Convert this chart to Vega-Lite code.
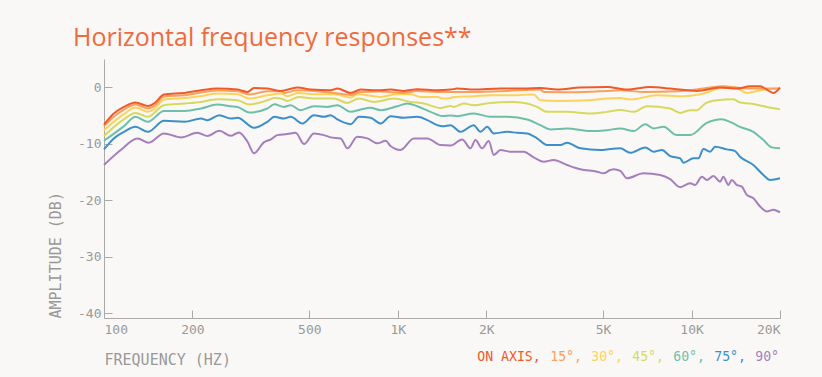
{
"$schema": "https://vega.github.io/schema/vega-lite/v6.json",
"width": 676, "height": 259,
"autosize": {"type": "none"},
"padding": {"left": 104, "top": 59, "right": 42, "bottom": 59},
"background": "#faf8f7",
"title": {"text": "Horizontal frequency responses**", "anchor": "start", "frame": "group", "dx": -31, "dy": 30, "offset": 18, "baseline": "alphabetic", "font": "Open Sans", "fontSize": 25, "fontWeight": "normal", "color": "#f06a3c"},
"data": {"values": [
{"s":"90°","f":100,"db":-13.74},{"s":"90°","f":114,"db":-11.1},{"s":"90°","f":130,"db":-9.04},{"s":"90°","f":142,"db":-9.81},{"s":"90°","f":160,"db":-8.16},{"s":"90°","f":183,"db":-8.86},{"s":"90°","f":208,"db":-8.05},{"s":"90°","f":225,"db":-8.63},{"s":"90°","f":247,"db":-7.7},{"s":"90°","f":270,"db":-8.58},{"s":"90°","f":288,"db":-7.98},{"s":"90°","f":308,"db":-9.64},{"s":"90°","f":324,"db":-11.68},{"s":"90°","f":350,"db":-9.74},{"s":"90°","f":370,"db":-9.2},{"s":"90°","f":389,"db":-8.46},{"s":"90°","f":421,"db":-8.28},{"s":"90°","f":449,"db":-8.05},{"s":"90°","f":480,"db":-10.04},{"s":"90°","f":518,"db":-8.16},{"s":"90°","f":561,"db":-8.46},{"s":"90°","f":591,"db":-8.86},{"s":"90°","f":639,"db":-9.04},{"s":"90°","f":674,"db":-10.8},{"s":"90°","f":728,"db":-8.76},{"s":"90°","f":788,"db":-9.04},{"s":"90°","f":852,"db":-9.92},{"s":"90°","f":909,"db":-9.46},{"s":"90°","f":945,"db":-10.4},{"s":"90°","f":1022,"db":-11.1},{"s":"90°","f":1134,"db":-9.04},{"s":"90°","f":1260,"db":-9.04},{"s":"90°","f":1398,"db":-10.22},{"s":"90°","f":1512,"db":-10.3},{"s":"90°","f":1657,"db":-9.22},{"s":"90°","f":1768,"db":-10.8},{"s":"90°","f":1838,"db":-9.34},{"s":"90°","f":1937,"db":-10.8},{"s":"90°","f":2040,"db":-9.52},{"s":"90°","f":2122,"db":-11.98},{"s":"90°","f":2236,"db":-11.1},{"s":"90°","f":2418,"db":-11.4},{"s":"90°","f":2683,"db":-11.4},{"s":"90°","f":2901,"db":-12.39},{"s":"90°","f":3138,"db":-13.16},{"s":"90°","f":3394,"db":-12.86},{"s":"90°","f":3768,"db":-13.74},{"s":"90°","f":4181,"db":-14.5},{"s":"90°","f":4766,"db":-14.93},{"s":"90°","f":5019,"db":-15.21},{"s":"90°","f":5289,"db":-14.63},{"s":"90°","f":5428,"db":-14.5},{"s":"90°","f":5720,"db":-14.8},{"s":"90°","f":6028,"db":-16.09},{"s":"90°","f":6864,"db":-15.21},{"s":"90°","f":7822,"db":-15.51},{"s":"90°","f":8458,"db":-16.26},{"s":"90°","f":9149,"db":-17.67},{"s":"90°","f":9890,"db":-16.97},{"s":"90°","f":10285,"db":-17.27},{"s":"90°","f":10839,"db":-15.81},{"s":"90°","f":11271,"db":-16.39},{"s":"90°","f":11869,"db":-15.68},{"s":"90°","f":12510,"db":-16.69},{"s":"90°","f":12835,"db":-15.81},{"s":"90°","f":13348,"db":-17.27},{"s":"90°","f":13708,"db":-16.39},{"s":"90°","f":14256,"db":-17.27},{"s":"90°","f":14825,"db":-17.57},{"s":"90°","f":15417,"db":-19.03},{"s":"90°","f":16234,"db":-19.61},{"s":"90°","f":17111,"db":-21.09},{"s":"90°","f":18030,"db":-21.97},{"s":"90°","f":18984,"db":-21.67},{"s":"90°","f":20000,"db":-22.14},
{"s":"75°","f":100,"db":-10.98},{"s":"75°","f":108,"db":-9.04},{"s":"75°","f":117,"db":-7.88},{"s":"75°","f":128,"db":-7.0},{"s":"75°","f":141,"db":-7.88},{"s":"75°","f":160,"db":-5.94},{"s":"75°","f":188,"db":-6.11},{"s":"75°","f":214,"db":-5.52},{"s":"75°","f":225,"db":-5.81},{"s":"75°","f":247,"db":-4.93},{"s":"75°","f":270,"db":-5.52},{"s":"75°","f":285,"db":-5.4},{"s":"75°","f":324,"db":-7.17},{"s":"75°","f":360,"db":-6.11},{"s":"75°","f":380,"db":-5.23},{"s":"75°","f":410,"db":-5.52},{"s":"75°","f":432,"db":-5.23},{"s":"75°","f":474,"db":-6.4},{"s":"75°","f":518,"db":-4.93},{"s":"75°","f":561,"db":-5.23},{"s":"75°","f":591,"db":-4.93},{"s":"75°","f":623,"db":-5.69},{"s":"75°","f":691,"db":-6.52},{"s":"75°","f":738,"db":-5.23},{"s":"75°","f":808,"db":-5.4},{"s":"75°","f":874,"db":-6.4},{"s":"75°","f":945,"db":-5.11},{"s":"75°","f":1049,"db":-5.4},{"s":"75°","f":1165,"db":-5.23},{"s":"75°","f":1260,"db":-5.81},{"s":"75°","f":1363,"db":-6.7},{"s":"75°","f":1420,"db":-6.9},{"s":"75°","f":1512,"db":-6.7},{"s":"75°","f":1635,"db":-7.88},{"s":"75°","f":1814,"db":-6.7},{"s":"75°","f":1911,"db":-7.88},{"s":"75°","f":2015,"db":-7.0},{"s":"75°","f":2122,"db":-8.16},{"s":"75°","f":2357,"db":-7.88},{"s":"75°","f":2549,"db":-8.05},{"s":"75°","f":2756,"db":-8.16},{"s":"75°","f":2980,"db":-9.04},{"s":"75°","f":3223,"db":-10.22},{"s":"75°","f":3577,"db":-10.22},{"s":"75°","f":3768,"db":-9.81},{"s":"75°","f":4181,"db":-10.8},{"s":"75°","f":4890,"db":-11.1},{"s":"75°","f":5289,"db":-10.93},{"s":"75°","f":5720,"db":-10.8},{"s":"75°","f":6185,"db":-11.58},{"s":"75°","f":6956,"db":-10.63},{"s":"75°","f":7422,"db":-11.4},{"s":"75°","f":7925,"db":-11.1},{"s":"75°","f":8458,"db":-12.16},{"s":"75°","f":9149,"db":-12.56},{"s":"75°","f":9387,"db":-13.34},{"s":"75°","f":10150,"db":-12.56},{"s":"75°","f":10554,"db":-12.56},{"s":"75°","f":10975,"db":-10.93},{"s":"75°","f":11566,"db":-11.4},{"s":"75°","f":12029,"db":-10.52},{"s":"75°","f":13183,"db":-10.98},{"s":"75°","f":14066,"db":-11.28},{"s":"75°","f":14628,"db":-12.28},{"s":"75°","f":16234,"db":-13.74},{"s":"75°","f":17559,"db":-15.51},{"s":"75°","f":18506,"db":-16.39},{"s":"75°","f":20000,"db":-16.09},
{"s":"60°","f":100,"db":-9.46},{"s":"60°","f":117,"db":-6.87},{"s":"60°","f":128,"db":-5.23},{"s":"60°","f":141,"db":-6.11},{"s":"60°","f":160,"db":-4.18},{"s":"60°","f":188,"db":-4.18},{"s":"60°","f":214,"db":-3.75},{"s":"60°","f":243,"db":-3.05},{"s":"60°","f":270,"db":-3.35},{"s":"60°","f":285,"db":-3.47},{"s":"60°","f":312,"db":-4.46},{"s":"60°","f":360,"db":-3.75},{"s":"60°","f":380,"db":-3.0},{"s":"60°","f":410,"db":-3.47},{"s":"60°","f":432,"db":-3.17},{"s":"60°","f":467,"db":-4.05},{"s":"60°","f":518,"db":-3.35},{"s":"60°","f":576,"db":-3.47},{"s":"60°","f":623,"db":-3.17},{"s":"60°","f":691,"db":-4.35},{"s":"60°","f":748,"db":-3.93},{"s":"60°","f":808,"db":-3.64},{"s":"60°","f":874,"db":-4.05},{"s":"60°","f":996,"db":-3.35},{"s":"60°","f":1077,"db":-2.87},{"s":"60°","f":1165,"db":-3.35},{"s":"60°","f":1293,"db":-4.35},{"s":"60°","f":1420,"db":-5.1},{"s":"60°","f":1512,"db":-5.0},{"s":"60°","f":1593,"db":-5.11},{"s":"60°","f":1814,"db":-4.63},{"s":"60°","f":2068,"db":-5.23},{"s":"60°","f":2357,"db":-5.23},{"s":"60°","f":2756,"db":-5.69},{"s":"60°","f":3058,"db":-6.7},{"s":"60°","f":3307,"db":-7.45},{"s":"60°","f":3768,"db":-7.28},{"s":"60°","f":4522,"db":-7.75},{"s":"60°","f":5155,"db":-7.58},{"s":"60°","f":5720,"db":-7.28},{"s":"60°","f":6346,"db":-7.75},{"s":"60°","f":6956,"db":-6.52},{"s":"60°","f":7422,"db":-7.28},{"s":"60°","f":8026,"db":-7.0},{"s":"60°","f":8913,"db":-8.46},{"s":"60°","f":9890,"db":-8.46},{"s":"60°","f":11271,"db":-6.29},{"s":"60°","f":12678,"db":-5.64},{"s":"60°","f":13526,"db":-6.11},{"s":"60°","f":14628,"db":-7.0},{"s":"60°","f":16234,"db":-7.88},{"s":"60°","f":17559,"db":-9.34},{"s":"60°","f":18750,"db":-10.63},{"s":"60°","f":20000,"db":-10.8},
{"s":"45°","f":100,"db":-8.63},{"s":"45°","f":117,"db":-5.64},{"s":"45°","f":128,"db":-4.53},{"s":"45°","f":141,"db":-5.23},{"s":"45°","f":160,"db":-3.17},{"s":"45°","f":188,"db":-2.87},{"s":"45°","f":214,"db":-2.59},{"s":"45°","f":243,"db":-2.11},{"s":"45°","f":285,"db":-2.29},{"s":"45°","f":312,"db":-3.05},{"s":"45°","f":360,"db":-2.3},{"s":"45°","f":380,"db":-1.9},{"s":"45°","f":400,"db":-1.99},{"s":"45°","f":421,"db":-2.41},{"s":"45°","f":461,"db":-1.71},{"s":"45°","f":518,"db":-1.99},{"s":"45°","f":606,"db":-1.99},{"s":"45°","f":674,"db":-2.77},{"s":"45°","f":738,"db":-1.99},{"s":"45°","f":830,"db":-2.59},{"s":"45°","f":970,"db":-1.99},{"s":"45°","f":1105,"db":-2.59},{"s":"45°","f":1227,"db":-2.87},{"s":"45°","f":1398,"db":-3.65},{"s":"45°","f":1512,"db":-3.3},{"s":"45°","f":1551,"db":-3.47},{"s":"45°","f":1677,"db":-2.87},{"s":"45°","f":1814,"db":-3.17},{"s":"45°","f":2068,"db":-2.77},{"s":"45°","f":2482,"db":-2.59},{"s":"45°","f":2756,"db":-2.87},{"s":"45°","f":2980,"db":-3.47},{"s":"45°","f":3223,"db":-4.35},{"s":"45°","f":3768,"db":-4.35},{"s":"45°","f":4522,"db":-4.63},{"s":"45°","f":5155,"db":-4.35},{"s":"45°","f":5720,"db":-4.0},{"s":"45°","f":6346,"db":-4.35},{"s":"45°","f":7047,"db":-3.35},{"s":"45°","f":8458,"db":-3.75},{"s":"45°","f":9149,"db":-4.53},{"s":"45°","f":9890,"db":-4.05},{"s":"45°","f":10420,"db":-4.05},{"s":"45°","f":11122,"db":-2.87},{"s":"45°","f":12188,"db":-2.29},{"s":"45°","f":13879,"db":-2.11},{"s":"45°","f":14628,"db":-2.7},{"s":"45°","f":15820,"db":-2.87},{"s":"45°","f":18030,"db":-3.47},{"s":"45°","f":20000,"db":-3.88},
{"s":"30°","f":100,"db":-7.58},{"s":"30°","f":117,"db":-4.76},{"s":"30°","f":128,"db":-3.58},{"s":"30°","f":141,"db":-4.35},{"s":"30°","f":148,"db":-3.88},{"s":"30°","f":160,"db":-2.17},{"s":"30°","f":188,"db":-1.89},{"s":"30°","f":214,"db":-1.53},{"s":"30°","f":243,"db":-1.11},{"s":"30°","f":285,"db":-1.23},{"s":"30°","f":312,"db":-1.99},{"s":"30°","f":360,"db":-1.41},{"s":"30°","f":400,"db":-1.11},{"s":"30°","f":421,"db":-1.59},{"s":"30°","f":455,"db":-1.0},{"s":"30°","f":518,"db":-1.23},{"s":"30°","f":606,"db":-1.23},{"s":"30°","f":691,"db":-1.81},{"s":"30°","f":728,"db":-1.23},{"s":"30°","f":874,"db":-1.71},{"s":"30°","f":996,"db":-1.23},{"s":"30°","f":1105,"db":-1.23},{"s":"30°","f":1196,"db":-1.71},{"s":"30°","f":1363,"db":-1.71},{"s":"30°","f":1420,"db":-2.0},{"s":"30°","f":1512,"db":-1.9},{"s":"30°","f":1551,"db":-1.71},{"s":"30°","f":1814,"db":-1.59},{"s":"30°","f":2068,"db":-1.41},{"s":"30°","f":2357,"db":-1.41},{"s":"30°","f":2901,"db":-1.29},{"s":"30°","f":3058,"db":-2.29},{"s":"30°","f":3486,"db":-2.41},{"s":"30°","f":4522,"db":-2.29},{"s":"30°","f":5155,"db":-1.99},{"s":"30°","f":5720,"db":-1.9},{"s":"30°","f":6185,"db":-2.17},{"s":"30°","f":7621,"db":-1.41},{"s":"30°","f":9387,"db":-1.59},{"s":"30°","f":10975,"db":-1.11},{"s":"30°","f":12835,"db":-0.05},{"s":"30°","f":14256,"db":-0.23},{"s":"30°","f":15417,"db":-1.0},{"s":"30°","f":17111,"db":-0.53},{"s":"30°","f":20000,"db":-0.23},
{"s":"15°","f":100,"db":-6.87},{"s":"15°","f":108,"db":-5.2},{"s":"15°","f":117,"db":-3.96},{"s":"15°","f":128,"db":-3.05},{"s":"15°","f":141,"db":-3.75},{"s":"15°","f":148,"db":-3.35},{"s":"15°","f":160,"db":-1.64},{"s":"15°","f":188,"db":-1.41},{"s":"15°","f":214,"db":-0.93},{"s":"15°","f":243,"db":-0.58},{"s":"15°","f":285,"db":-0.7},{"s":"15°","f":312,"db":-1.29},{"s":"15°","f":360,"db":-0.7},{"s":"15°","f":400,"db":-0.7},{"s":"15°","f":410,"db":-1.0},{"s":"15°","f":455,"db":-0.53},{"s":"15°","f":606,"db":-1.0},{"s":"15°","f":691,"db":-1.36},{"s":"15°","f":748,"db":-0.83},{"s":"15°","f":874,"db":-0.76},{"s":"15°","f":1049,"db":-1.0},{"s":"15°","f":1165,"db":-0.65},{"s":"15°","f":1363,"db":-0.83},{"s":"15°","f":1512,"db":-0.85},{"s":"15°","f":1814,"db":-0.83},{"s":"15°","f":2357,"db":-0.65},{"s":"15°","f":3058,"db":-0.41},{"s":"15°","f":3138,"db":-0.83},{"s":"15°","f":3968,"db":-0.88},{"s":"15°","f":5155,"db":-0.65},{"s":"15°","f":5720,"db":-0.53},{"s":"15°","f":6864,"db":-0.83},{"s":"15°","f":8913,"db":-0.7},{"s":"15°","f":10975,"db":-0.23},{"s":"15°","f":12835,"db":0.18},{"s":"15°","f":14256,"db":-0.05},{"s":"15°","f":15820,"db":-0.23},{"s":"15°","f":17559,"db":-0.23},{"s":"15°","f":20000,"db":-0.23},
{"s":"ON AXIS","f":100,"db":-6.6},{"s":"ON AXIS","f":108,"db":-4.63},{"s":"ON AXIS","f":117,"db":-3.47},{"s":"ON AXIS","f":128,"db":-2.7},{"s":"ON AXIS","f":141,"db":-3.3},{"s":"ON AXIS","f":148,"db":-2.87},{"s":"ON AXIS","f":160,"db":-1.29},{"s":"ON AXIS","f":188,"db":-1.0},{"s":"ON AXIS","f":214,"db":-0.53},{"s":"ON AXIS","f":243,"db":-0.23},{"s":"ON AXIS","f":285,"db":-0.41},{"s":"ON AXIS","f":308,"db":-0.83},{"s":"ON AXIS","f":324,"db":-0.12},{"s":"ON AXIS","f":360,"db":-0.23},{"s":"ON AXIS","f":400,"db":-0.65},{"s":"ON AXIS","f":455,"db":-0.05},{"s":"ON AXIS","f":505,"db":-0.41},{"s":"ON AXIS","f":591,"db":-0.53},{"s":"ON AXIS","f":623,"db":-0.23},{"s":"ON AXIS","f":691,"db":-1.0},{"s":"ON AXIS","f":748,"db":-0.41},{"s":"ON AXIS","f":852,"db":-0.53},{"s":"ON AXIS","f":945,"db":-0.41},{"s":"ON AXIS","f":1049,"db":-0.65},{"s":"ON AXIS","f":1165,"db":-0.35},{"s":"ON AXIS","f":1363,"db":-0.53},{"s":"ON AXIS","f":1512,"db":-0.41},{"s":"ON AXIS","f":1593,"db":-0.23},{"s":"ON AXIS","f":1814,"db":-0.41},{"s":"ON AXIS","f":2236,"db":-0.23},{"s":"ON AXIS","f":2683,"db":-0.23},{"s":"ON AXIS","f":3058,"db":-0.12},{"s":"ON AXIS","f":3486,"db":-0.41},{"s":"ON AXIS","f":4181,"db":-0.05},{"s":"ON AXIS","f":5155,"db":0.05},{"s":"ON AXIS","f":6028,"db":-0.41},{"s":"ON AXIS","f":7233,"db":0.05},{"s":"ON AXIS","f":8458,"db":-0.23},{"s":"ON AXIS","f":10420,"db":-0.65},{"s":"ON AXIS","f":12510,"db":-0.05},{"s":"ON AXIS","f":14256,"db":-0.23},{"s":"ON AXIS","f":15820,"db":0.18},{"s":"ON AXIS","f":17111,"db":0.18},{"s":"ON AXIS","f":18030,"db":-0.41},{"s":"ON AXIS","f":18984,"db":-1.0},{"s":"ON AXIS","f":20000,"db":-0.05}
]},
"mark": {"type": "line", "strokeWidth": 2, "interpolate": "monotone"},
"encoding": {
  "x": {"field": "f", "type": "quantitative",
    "scale": {"type": "log", "domain": [100, 20000], "nice": false},
    "axis": {"title": "FREQUENCY (HZ)", "titleAnchor": "start", "values": [100,200,500,1000,2000,5000,10000,20000],
      "labelExpr": "datum.value >= 1000 ? (datum.value/1000) + 'K' : '' + datum.value",
      "labelFlush": true, "tickSize": -8, "labelPadding": 13, "titlePadding": 16}},
  "y": {"field": "db", "type": "quantitative",
    "scale": {"domain": [-40.8, 5], "nice": false, "zero": false},
    "axis": {"title": "AMPLITUDE (DB)", "titleAnchor": "start", "values": [-40,-30,-20,-10,0],
      "labelExpr": "'' + datum.value", "tickSize": -8, "labelPadding": 11, "titlePadding": 14}},
  "color": {"field": "s", "type": "nominal",
    "scale": {"domain": ["ON AXIS","15°","30°","45°","60°","75°","90°"],
      "range": ["#f05a28","#f8a05c","#fdd25a","#d6d95e","#6dbfaa","#3b8fcb","#a47fbc"]},
    "legend": {"orient": "none", "legendX": 373, "legendY": 291, "direction": "horizontal", "title": null, "gridAlign": "none",
      "symbolSize": 0, "symbolOpacity": 0, "symbolStrokeWidth": 0, "labelOffset": -13, "columnPadding": 9,
      "labelFont": "DejaVu Sans Mono", "labelFontSize": 13.2, "labelLimit": 0, "padding": 0,
      "labelExpr": "datum.label == '90°' ? datum.label : datum.label + ','",
      "encode": {"labels": {"update": {"fill": {"scale": "color", "field": "value"}}}}}}
},
"config": {
  "view": {"stroke": null},
  "axis": {"grid": false, "domainColor": "#aaaaaa", "tickColor": "#aaaaaa", "labelColor": "#999999", "titleColor": "#999999",
    "labelFont": "DejaVu Sans Mono", "labelFontSize": 13, "titleFont": "DejaVu Sans Mono", "titleFontSize": 15, "titleFontWeight": "normal"}
}
}
